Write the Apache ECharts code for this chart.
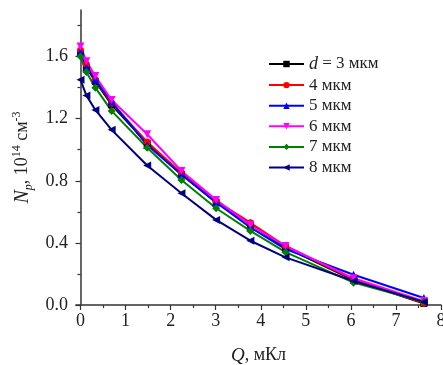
<!DOCTYPE html>
<html><head><meta charset="utf-8">
<script src="https://cdn.jsdelivr.net/npm/echarts@6/dist/echarts.min.js"></script>
<style>html,body{margin:0;padding:0;background:#fff}#c{width:443px;height:365px}</style>
</head><body><div id="c"></div>
<script>
var Q = [0, 0.13, 0.33, 0.69, 1.48, 2.24, 3.01, 3.77, 4.55, 6.06, 7.62];
var d3 = [1.62, 1.53, 1.44, 1.29, 1.04, 0.84, 0.66, 0.52, 0.37, 0.16, 0.01];
var d4 = [1.64, 1.55, 1.45, 1.30, 1.05, 0.85, 0.67, 0.53, 0.38, 0.165, 0.012];
var d5 = [1.63, 1.53, 1.45, 1.31, 1.03, 0.84, 0.66, 0.50, 0.36, 0.195, 0.045];
var d6 = [1.665, 1.57, 1.475, 1.32, 1.10, 0.863, 0.677, 0.515, 0.38, 0.172, 0.025];
var d7 = [1.60, 1.50, 1.40, 1.25, 1.013, 0.805, 0.623, 0.477, 0.34, 0.144, 0.02];
var d8 = [1.45, 1.35, 1.256, 1.128, 0.898, 0.72, 0.548, 0.414, 0.307, 0.155, 0.02];
var names = ['d = 3 мкм', '4 мкм', '5 мкм', '6 мкм', '7 мкм', '8 мкм'];
var xTicks = [0, 1, 2, 3, 4, 5, 6, 7, 8];
var xMinor = [0.5, 1.5, 2.5, 3.5, 4.5, 5.5, 6.5, 7.5];
var yTicks = [0, 0.4, 0.8, 1.2, 1.6];
var yMinor = [0.2, 0.6, 1.0, 1.4, 1.8];

var F = 'Liberation Serif';
var colors = ['#000000', '#ff0000', '#0000ff', '#ff00ff', '#008000', '#000080'];
var symbols = ['rect', 'circle', 'triangle', 'triangle', 'diamond', 'triangle'];
var rot = [0, 0, 0, 180, 0, 90];
var sizes = [7, 7, 8, 8, 8, 8];
var all = [d3, d4, d5, d6, d7, d8];

function pairs(ys) { return Q.map(function (q, i) { return [q, ys[i]]; }); }

var series = all.map(function (ys, k) {
  return {
    name: names[k], type: 'line', data: pairs(ys),
    xAxisIndex: 0, yAxisIndex: 0,
    symbol: symbols[k], symbolRotate: rot[k], symbolSize: sizes[k],
    lineStyle: { color: colors[k], width: 2 },
    itemStyle: { color: colors[k] },
    emphasis: { disabled: true }, animation: false
  };
});

var axLine = { show: true, lineStyle: { color: '#333', width: 1.5 } };
var chart = echarts.init(document.getElementById('c'), null, { renderer: 'canvas' });
chart.setOption({
  backgroundColor: '#fff',
  animation: false,
  textStyle: { fontFamily: F },
  grid: { left: 76, right: 2, top: 10, bottom: 60, containLabel: false, outerBoundsMode: 'none' },
  legend: {
    orient: 'vertical', left: 268, top: 55, padding: 0,
    itemWidth: 35, itemHeight: 8, itemGap: 3.6, itemTextGap: 4,
    data: names,
    formatter: function (n) { return n.indexOf('d = ') === 0 ? '{i|d} = 3 мкм' : n; },
    textStyle: { fontFamily: F, fontSize: 17, color: '#222', lineHeight: 16,
      rich: { i: { fontFamily: F, fontStyle: 'italic', fontSize: 18, color: '#222' } } }
  },
  xAxis: [{
    type: 'value', min: -0.1, max: 8,
    axisLine: axLine,
    axisTick: { show: true, inside: false, length: 5, customValues: xTicks, lineStyle: { color: '#333', width: 1.2 } },
    axisLabel: { customValues: xTicks, fontFamily: F, fontSize: 18, color: '#222', margin: 7 },
    splitLine: { show: false },
    name: '{i|Q}, мКл', nameLocation: 'middle', nameGap: 41,
    nameTextStyle: { fontFamily: F, fontSize: 18, color: '#222',
      rich: { i: { fontFamily: F, fontStyle: 'italic', fontSize: 19, color: '#222' } } }
  }, {
    type: 'value', min: -0.1, max: 8, position: 'bottom',
    axisLine: { show: false },
    axisTick: { show: true, length: 3, customValues: xMinor, lineStyle: { color: '#333', width: 1.2 } },
    axisLabel: { show: false }, splitLine: { show: false }
  }],
  yAxis: [{
    type: 'value', min: 0, max: 1.9,
    axisLine: axLine,
    axisTick: { show: true, inside: false, length: 5, customValues: yTicks, lineStyle: { color: '#333', width: 1.2 } },
    axisLabel: { customValues: yTicks, fontFamily: F, fontSize: 18, color: '#222', margin: 8,
      formatter: function (v) { return v.toFixed(1); } },
    splitLine: { show: false },
    name: '{n|N}{sub|p}, 10{sup|14} см{sup|-3}', nameLocation: 'middle', nameGap: 37,
    nameTextStyle: { fontFamily: F, fontSize: 18, color: '#222', lineHeight: 24,
      rich: {
        n: { fontFamily: F, fontStyle: 'italic', fontSize: 20, color: '#222', lineHeight: 24 },
        sub: { fontFamily: F, fontStyle: 'italic', fontSize: 12, color: '#222', verticalAlign: 'bottom', lineHeight: 24 },
        sup: { fontFamily: F, fontSize: 12, color: '#222', verticalAlign: 'top', lineHeight: 24 }
      } }
  }, {
    type: 'value', min: 0, max: 1.9, position: 'left',
    axisLine: { show: false },
    axisTick: { show: true, length: 3, customValues: yMinor, lineStyle: { color: '#333', width: 1.2 } },
    axisLabel: { show: false }, splitLine: { show: false }
  }],
  series: series
});
</script></body></html>
